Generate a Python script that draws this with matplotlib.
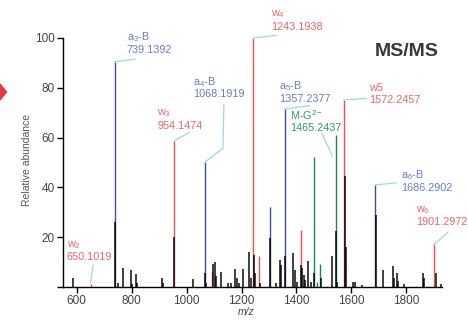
import matplotlib
matplotlib.use("Agg")
import matplotlib.pyplot as plt
import numpy as np
from matplotlib.patches import Polygon

plt.rcParams['font.family'] = ['Liberation Sans', 'DejaVu Sans']
plt.rcParams['mathtext.fontset'] = 'custom'
plt.rcParams['mathtext.rm'] = 'Liberation Sans'
plt.rcParams['mathtext.it'] = 'Liberation Sans:italic'

# ---------------- data ----------------
blue_mz = [739.14, 1068.19, 1304, 1357.24, 1686.29]
blue_h = [90.5, 50.3, 32.3, 71.5, 41.0]
red_mz = [650.10, 954.15, 1091, 1243.19, 1263, 1417, 1572.25, 1901.30]
red_h = [1.2, 58.6, 6.6, 100.0, 12.4, 22.9, 75.1, 17.1]
green_mz = [1465.24, 1474, 1486, 1544]
green_h = [52.3, 2.0, 9.1, 61.0]
black_mz = [585, 740, 751, 769, 796, 800, 816, 820, 911, 915, 955, 1022, 1068, 1072,
            1097, 1103, 1107, 1124, 1150, 1160, 1176, 1182, 1192, 1204, 1228, 1234,
            1245, 1249, 1266, 1304, 1325, 1340, 1345, 1357, 1389, 1394, 1402, 1418,
            1422, 1426, 1432, 1442, 1452, 1465, 1488, 1531, 1545, 1549, 1576, 1580,
            1605, 1612, 1640, 1690, 1716, 1751, 1754, 1766, 1769, 1790, 1862, 1866,
            1908, 1925]
black_h = [3.7, 26.2, 1.6, 7.5, 6.7, 1.2, 5.4, 1.5, 3.6, 1.5, 20.2, 3.2, 5.5, 1.5,
           9.1, 9.9, 4.3, 6.0, 1.5, 1.5, 7.2, 3.7, 1.5, 7.2, 13.9, 3.5,
           13.0, 5.5, 1.5, 19.8, 1.5, 11.0, 8.7, 12.4, 13.5, 6.8, 2.0, 8.7,
           7.7, 5.0, 3.0, 10.6, 2.0, 5.6, 3.5, 12.4, 22.6, 2.0, 44.7, 16.2,
           2.0, 2.0, 1.0, 28.9, 6.8, 8.6, 3.5, 5.8, 2.5, 1.2, 5.8, 3.5,
           5.8, 1.2]

# labels: (line1, line2, peak mz, peak h, color)
labels = [
    (r'a$_3$-B', '739.1392', 739.14, 90.5, 'blue'),
    (r'a$_4$-B', '1068.1919', 1068.19, 50.3, 'blue'),
    (r'w$_3$', '954.1474', 954.15, 58.6, 'red'),
    (r'w$_4$', '1243.1938', 1243.19, 100.0, 'red'),
    (r'a$_5$-B', '1357.2377', 1357.24, 71.5, 'blue'),
    (r'M-G$^{2-}$', '1465.2437', 1465.24, 52.3, 'green'),
    ('w5', '1572.2457', 1572.25, 75.1, 'red'),
    (r'a$_6$-B', '1686.2902', 1686.29, 41.0, 'blue'),
    (r'w$_6$', '1901.2972', 1901.30, 17.1, 'red'),
    (r'w$_2$', '650.1019', 650.10, 1.2, 'red'),
]
# layout: leader polyline offsets (px, right/up) and text offset (left x, centre y of 2nd line)
leaders = [
    [(0, 0), (20, 2.4)],
    [(0, 0), (17.6, 13.4), (18.6, 57.4)],
    [(0, 0), (15, 8.7)],
    [(0, 0), (22.7, 2.7)],
    [(0, 0), (24.7, 3.3)],
    [(7.4, 23.7), (18, 0.7)],
    [(0, 0), (22.7, 1.7)],
    [(0, 0), (21, 2)],
    [(0, 0), (13.7, 12)],
    [(0, 0.5), (2.6, 19)],
]
text_off = [(11.7, 11.7), (-12.4, 67.4), (-16.7, 15.3), (17.7, 11), (-6, 10.3),
            (-24.3, 29), (25.3, 0), (26, -2.7), (-18.3, 22.3), (-24, 26.8)]

line_col = {'blue': '#3c4ea2', 'red': '#ef4f57', 'green': '#1b8a47'}
text_col = {'blue': '#6a7dc4', 'red': '#f06466', 'green': '#2f9a60'}
leader_col = '#9fd6e2'

W, H = 468, 321
fig = plt.figure(figsize=(W / 100, H / 100), dpi=100)
ax = fig.add_axes([63.3 / W, 1 - 287 / H, (442 - 63.3) / W, (287 - 38) / H])
ax.set_xlim(551, 1930)
ax.set_ylim(0, 100)

ax.vlines(blue_mz, 0, blue_h, color=line_col['blue'], lw=1.0)
ax.vlines(red_mz, 0, red_h, color=line_col['red'], lw=1.0)
ax.vlines(green_mz, 0, green_h, color=line_col['green'], lw=1.0)
ax.vlines(black_mz, 0, black_h, color='black', lw=1.2, alpha=0.88)

for s in ['top', 'right']:
    ax.spines[s].set_visible(False)
ax.spines['left'].set_linewidth(1.0)
ax.spines['bottom'].set_linewidth(1.0)
ax.spines['left'].set_bounds(0, 100)
ax.set_xticks([600, 800, 1000, 1200, 1400, 1600, 1800])
ax.set_yticks([0, 20, 40, 60, 80, 100])
ax.set_yticklabels(['', '20', '40', '60', '80', '100'])
ax.tick_params(axis='both', direction='out', length=4, width=1.0, labelsize=8.5,
               labelcolor='#444444', color='black', pad=2)
ax.set_xlabel('m/z', fontsize=7.5, style='italic', color='#444444')
ax.set_ylabel('Relative abundance', fontsize=7.5, color='#555555')
ax.xaxis.set_label_coords(0.484, -0.082)
ax.yaxis.set_label_coords(-0.082, 0.51)

fig.canvas.draw()
tD = ax.transData
inv = tD.inverted()

def to_data(base, dx, dy):
    d = tD.transform(base)
    return inv.transform((d[0] + dx, d[1] + dy))

for (l1, l2, mz, h, c), pts, (tx, ty) in zip(labels, leaders, text_off):
    dpts = np.array([to_data((mz, h), dx, dy) for dx, dy in pts])
    ax.plot(dpts[:, 0], dpts[:, 1], color=leader_col, lw=0.9, clip_on=False)
    p2 = to_data((mz, h), tx, ty)
    p1 = to_data((mz, h), tx, ty + 12.5)
    ax.text(p2[0], p2[1], l2, color=text_col[c], fontsize=7.8, ha='left', va='center')
    ax.text(p1[0], p1[1], l1, color=text_col[c], fontsize=7.8, ha='left', va='center')

fig.text(407 / W, 1 - 52 / H, 'MS/MS', fontsize=14, fontweight='bold', color='#383838',
         ha='center', va='center')

arrow = Polygon([(0, 1 - 84 / H), (6.5 / W, 1 - 92 / H), (0, 1 - 100 / H)],
                closed=True, transform=fig.transFigure, color='#e8383d')
fig.patches.append(arrow)

fig.savefig('out.png', dpi=100)
